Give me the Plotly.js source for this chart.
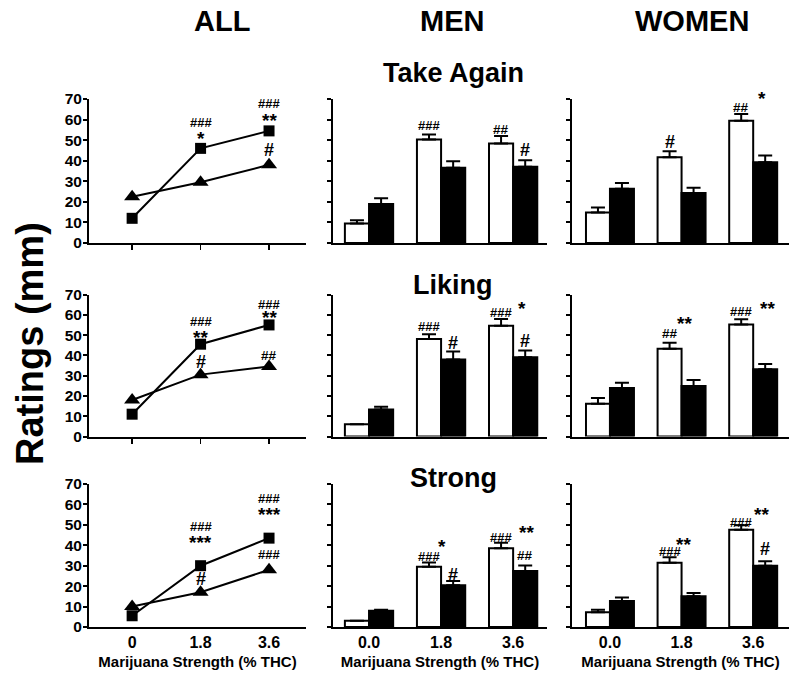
<!DOCTYPE html>
<html>
<head>
<meta charset="utf-8">
<script src="https://cdn.plot.ly/plotly-3.0.1.min.js"></script>
<style>html,body{margin:0;padding:0;background:#fff;}#chart{width:800px;height:678px;}</style>
</head>
<body>
<div id="chart"></div>
<script>
// ---------- data ----------
const positions = [0, 1, 2];
const allTicks = ['0', '1.8', '3.6'];
const sexTicks = ['0.0', '1.8', '3.6'];
const columnTitles = ['ALL', 'MEN', 'WOMEN'];
const rowTitles = ['Take Again', 'Liking', 'Strong'];
const xTitle = 'Marijuana Strength (% THC)';
const yTitle = 'Ratings (mm)';

// ALL panels: squares and triangles
const allTakeSquare = [12, 46, 54.5];
const allTakeTriangle = [22.5, 29.5, 38];
const allLikeSquare = [11, 45.5, 55];
const allLikeTriangle = [18, 30.5, 34.5];
const allStrongSquare = [5.5, 30, 43.5];
const allStrongTriangle = [10, 17, 28];

// MEN / WOMEN panels: white bars and black bars with SEM
const menTakeWhite = [9.5, 50.3, 48.4];
const menTakeWhiteErr = [1.5, 2.5, 3.6];
const menTakeBlack = [18.9, 36.6, 37.1];
const menTakeBlackErr = [2.8, 3.1, 3.1];
const womenTakeWhite = [14.8, 41.7, 59.4];
const womenTakeWhiteErr = [2.5, 2.9, 3.3];
const womenTakeBlack = [26.4, 24.3, 39.3];
const womenTakeBlackErr = [2.8, 2.6, 3.2];

const menLikeWhite = [6, 48.1, 54.6];
const menLikeWhiteErr = [0, 2.3, 3.3];
const menLikeBlack = [13.3, 38, 39.1];
const menLikeBlackErr = [1.4, 3.9, 3.3];
const womenLikeWhite = [16.2, 43.2, 55.2];
const womenLikeWhiteErr = [2.8, 3.0, 2.6];
const womenLikeBlack = [23.9, 24.9, 33.1];
const womenLikeBlackErr = [2.6, 2.9, 2.7];

const menStrongWhite = [3.1, 29.5, 38.6];
const menStrongWhiteErr = [0, 2.1, 2.6];
const menStrongBlack = [8, 20.4, 27.4];
const menStrongBlackErr = [0.4, 2.1, 2.7];
const womenStrongWhite = [7.2, 31.4, 47.6];
const womenStrongWhiteErr = [1.3, 2.8, 2.2];
const womenStrongBlack = [12.7, 15, 30];
const womenStrongBlackErr = [1.8, 1.6, 2.2];

// significance marks: [text, x, y]
const marksAllTake = [['###',1,58.5],['*',1,53],['###',2,68],['**',2,62],['#',2,45]];
const marksMenTake = [['###',0.833,57],['##',1.833,55.4],['#',2.167,45.1]];
const marksWomenTake = [['#',0.833,48.9],['##',1.833,66],['*',2.12,72.5]];
const marksAllLike = [['###',1,56.7],['**',1,51.2],['###',2,65],['**',2,60.9],['#',1,36.8],['##',2,40.1]];
const marksMenLike = [['###',0.833,54],['#',1.167,46.2],['###',1.833,61],['*',2.12,65.5],['#',2.167,47.1]];
const marksWomenLike = [['##',0.833,51],['**',1.04,58.4],['###',1.833,61.4],['**',2.2,65.5]];
const marksAllStrong = [['###',1,49.4],['***',1,43.6],['###',2,62.8],['***',2,57.4],['#',1,23.7],['###',2,35.4]];
const marksMenStrong = [['###',0.833,34.4],['*',1.01,41.7],['#',1.167,25.4],['###',1.833,43.8],['**',2.19,48.6],['##',2.167,34.8]];
const marksWomenStrong = [['###',0.833,37],['**',1.03,43],['###',1.833,51.1],['**',2.12,57.3],['#',2.167,38.1]];

// ---------- layout geometry ----------
const W = 800, H = 678;
const colDomains = [[89/W, 306/W], [333/W, 547/W], [572/W, 789/W]];
const colRanges = [[-0.63, 2.54], [-0.5, 2.47], [-0.53, 2.5]];
const rowPx = [[99, 243], [294.5, 436.5], [484, 627]];
const rowDomains = rowPx.map(r => [1 - r[1]/H, 1 - r[0]/H]);

const FONT = 'Arial, "Liberation Sans", sans-serif';
const traces = [];
const layout = {
  width: W, height: H,
  margin: {l: 0, r: 0, t: 0, b: 0},
  paper_bgcolor: '#fff', plot_bgcolor: 'rgba(0,0,0,0)',
  showlegend: false,
  barmode: 'group', bargap: 0.33, bargroupgap: 0,
  font: {family: FONT, color: '#000'},
  annotations: []
};

function axName(i, k) { return i === 1 ? k : k + i; }
function axRef(i, k) { return i === 1 ? k : k + i; }

const lineData = [
  [allTakeSquare, allTakeTriangle, marksAllTake],
  [allLikeSquare, allLikeTriangle, marksAllLike],
  [allStrongSquare, allStrongTriangle, marksAllStrong]
];
const barData = [
  [[menTakeWhite, menTakeWhiteErr, menTakeBlack, menTakeBlackErr, marksMenTake],
   [womenTakeWhite, womenTakeWhiteErr, womenTakeBlack, womenTakeBlackErr, marksWomenTake]],
  [[menLikeWhite, menLikeWhiteErr, menLikeBlack, menLikeBlackErr, marksMenLike],
   [womenLikeWhite, womenLikeWhiteErr, womenLikeBlack, womenLikeBlackErr, marksWomenLike]],
  [[menStrongWhite, menStrongWhiteErr, menStrongBlack, menStrongBlackErr, marksMenStrong],
   [womenStrongWhite, womenStrongWhiteErr, womenStrongBlack, womenStrongBlackErr, marksWomenStrong]]
];

function addMarks(marks, i, r) {
  const pxPerUnit = (rowPx[r][1] - rowPx[r][0]) / 70;
  marks.forEach(m => {
    const t = m[0];
    const isStar = t.indexOf('*') >= 0;
    let size = 13, yshift = 0;
    if (isStar) { size = 19; yshift = -5; }
    else if (t === '#') { size = 18; }
    else if (t === '##') { size = 13.5; }
    let y = m[2];
    if (y > 70) { yshift += (y - 70) * pxPerUnit; y = 70; }
    layout.annotations.push({
      xref: axRef(i, 'x'), yref: axRef(i, 'y'), x: m[1], y: y,
      text: '<b>' + t + '</b>', showarrow: false, yshift: yshift,
      font: {family: FONT, size: size, color: '#000'}
    });
  });
}

for (let r = 0; r < 3; r++) {
  for (let c = 0; c < 3; c++) {
    const i = r*3 + c + 1;
    const xa = axRef(i, 'x'), ya = axRef(i, 'y');
    const isAll = c === 0, isBottom = r === 2;
    layout[axName(i, 'xaxis')] = {
      domain: colDomains[c], range: colRanges[c], anchor: ya,
      showgrid: false, zeroline: false, showline: true, linecolor: '#000', linewidth: 2,
      tickmode: 'array', tickvals: positions,
      ticktext: isAll ? allTicks : sexTicks,
      ticks: (isAll && !isBottom) ? 'outside' : '', ticklen: 5, tickwidth: 1.5, tickcolor: '#000',
      showticklabels: isBottom,
      tickfont: {family: FONT, size: 16, color: '#000', weight: 'bold'},
      title: isBottom ? {text: '<b>' + xTitle + '</b>', font: {family: FONT, size: 15, color: '#000'}, standoff: 6} : {text: ''},
      fixedrange: true
    };
    layout[axName(i, 'yaxis')] = {
      domain: rowDomains[r], range: [0, 70], anchor: xa,
      showgrid: false, zeroline: false, showline: true, linecolor: '#000', linewidth: 2,
      tickmode: 'linear', tick0: 0, dtick: 10,
      ticks: 'outside', ticklen: 4, tickwidth: 2, tickcolor: '#000',
      showticklabels: isAll, ticklabelstandoff: -2,
      tickfont: {family: FONT, size: 15.5, color: '#000', weight: 'bold'},
      fixedrange: true
    };
    if (isAll) {
      const d = lineData[r];
      traces.push({
        type: 'scatter', mode: 'lines+markers', x: positions, y: d[1], xaxis: xa, yaxis: ya,
        line: {color: '#000', width: 2}, marker: {symbol: 'triangle-up', size: 14, color: '#000'},
        cliponaxis: false
      });
      traces.push({
        type: 'scatter', mode: 'lines+markers', x: positions, y: d[0], xaxis: xa, yaxis: ya,
        line: {color: '#000', width: 2}, marker: {symbol: 'square', size: 11, color: '#000'},
        cliponaxis: false
      });
      addMarks(d[2], i, r);
    } else {
      const d = barData[r][c-1];
      traces.push({
        type: 'bar', x: positions, y: d[0], xaxis: xa, yaxis: ya, offsetgroup: 'w',
        marker: {color: '#fff', line: {color: '#000', width: 2}},
        error_y: {type: 'data', symmetric: false, array: d[1], arrayminus: [0,0,0], color: '#000', thickness: 2, width: 7},
        cliponaxis: false
      });
      traces.push({
        type: 'bar', x: positions, y: d[2], xaxis: xa, yaxis: ya, offsetgroup: 'b',
        marker: {color: '#000', line: {color: '#000', width: 2}},
        error_y: {type: 'data', symmetric: false, array: d[3], arrayminus: [0,0,0], color: '#000', thickness: 2, width: 7},
        cliponaxis: false
      });
      addMarks(d[4], i, r);
    }
  }
}

// column headers
const colHeaderX = [222, 452, 692];
columnTitles.forEach((t, k) => layout.annotations.push({
  xref: 'paper', yref: 'paper', x: colHeaderX[k]/W, y: 1 - 21/H, text: '<b>' + t + '</b>',
  showarrow: false, xanchor: 'center', yanchor: 'middle', font: {family: FONT, size: 29, color: '#000'}
}));
// row titles
const rowTitleY = [73, 285, 478];
rowTitles.forEach((t, k) => layout.annotations.push({
  xref: 'paper', yref: 'paper', x: 453/W, y: 1 - rowTitleY[k]/H, text: '<b>' + t + '</b>',
  showarrow: false, xanchor: 'center', yanchor: 'middle', font: {family: FONT, size: 27, color: '#000'}
}));
// global y title
layout.annotations.push({
  xref: 'paper', yref: 'paper', x: 30/W, y: 1 - 344/H, text: '<b>' + yTitle + '</b>',
  showarrow: false, textangle: -90, xanchor: 'center', yanchor: 'middle',
  font: {family: FONT, size: 38, color: '#000'}
});

Plotly.newPlot('chart', traces, layout, {displayModeBar: false, staticPlot: true});
</script>
</body>
</html>
